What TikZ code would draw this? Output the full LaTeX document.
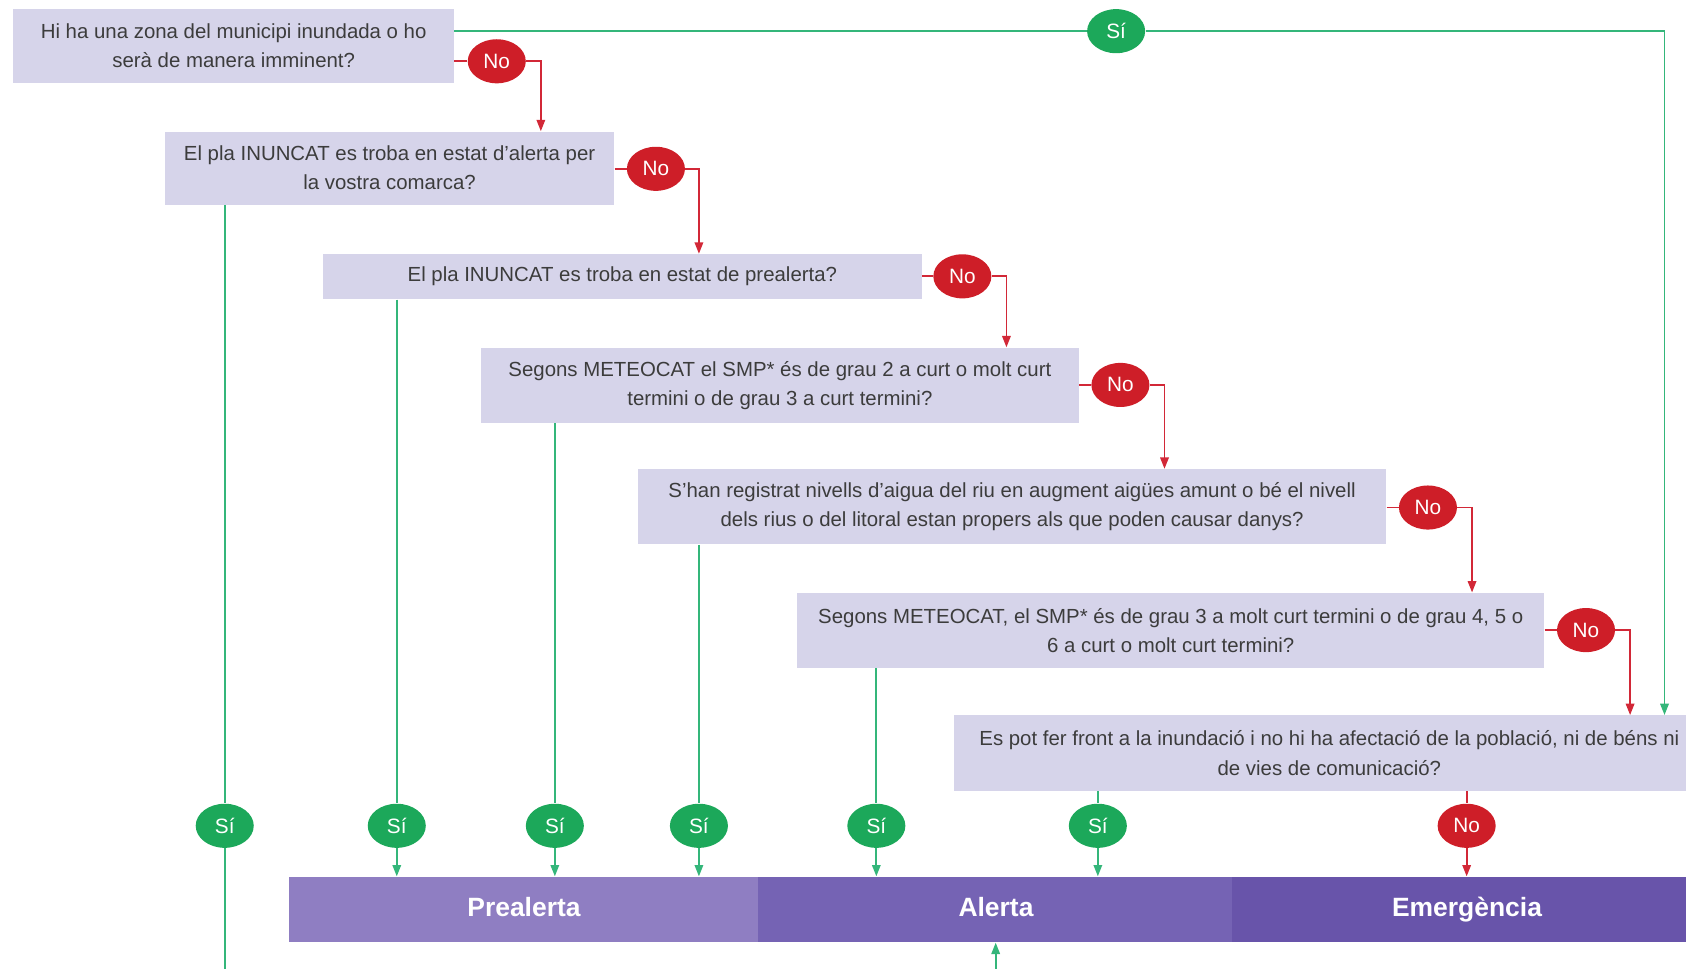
\documentclass[tikz,border=0pt]{standalone}
\usepackage{fontspec}
\setmainfont{Liberation Sans}
\usetikzlibrary{calc, positioning, arrows.meta, shapes.geometric}
\definecolor{qFill}{RGB}{214, 212, 234}
\definecolor{txtGray}{RGB}{60, 60, 60}
\definecolor{siFill}{RGB}{28, 168, 90}
\definecolor{siLine}{RGB}{52, 182, 122}
\definecolor{noFill}{RGB}{206, 30, 40}
\definecolor{noLine}{RGB}{210, 40, 55}
\definecolor{barA}{RGB}{143, 126, 194}
\definecolor{barB}{RGB}{117, 99, 180}
\definecolor{barC}{RGB}{104, 84, 170}

\begin{document}
\begin{tikzpicture}[x=0.02cm, y=-0.02cm, >={Triangle[width=4.5pt, length=6pt]},
  qbox/.style={fill=qFill, text=txtGray, anchor=north west, align=center,
    inner sep=0pt, font=\fontsize{10.8}{15.4}\selectfont},
  sibub/.style={ellipse, fill=siFill, text=white, minimum width=1.08cm,
    minimum height=0.82cm, inner sep=0pt, font=\fontsize{11}{13}\selectfont},
  nobub/.style={sibub, fill=noFill},
  siline/.style={draw=siLine, line width=0.9pt},
  noline/.style={draw=noLine, line width=0.9pt},
  bar/.style={anchor=north west, minimum height=1.22cm, inner sep=0pt,
    text height=1.9ex, text depth=0.5ex,
    text=white, font=\fontsize{14}{16}\selectfont\bfseries}]
  \useasboundingbox (0,0) rectangle (1568,901);
  \clip (0,0) rectangle (1568,901);

  % questions
  \node[qbox, minimum width=8.2cm, minimum height=1.38cm] (q1) at (12,8)
    {Hi ha una zona del municipi inundada o ho\\serà de manera imminent?};
  \node[qbox, minimum width=8.36cm, minimum height=1.36cm] (q2) at (153,122)
    {El pla INUNCAT es troba en estat d’alerta per\\la vostra comarca?};
  \node[qbox, minimum width=11.14cm, minimum height=0.84cm] (q3) at (300,236)
    {El pla INUNCAT es troba en estat de prealerta?};
  \node[qbox, minimum width=11.12cm, minimum height=1.4cm] (q4) at (447,323)
    {Segons METEOCAT el SMP* és de grau 2 a curt o molt curt\\termini o de grau 3 a curt termini?};
  \node[qbox, minimum width=13.92cm, minimum height=1.4cm] (q5) at (593,436)
    {S’han registrat nivells d’aigua del riu en augment aigües amunt o bé el nivell\\dels rius o del litoral estan propers als que poden causar danys?};
  \node[qbox, minimum width=13.9cm, minimum height=1.4cm] (q6) at (741,551)
    {Segons METEOCAT, el SMP* és de grau 3 a molt curt termini o de grau 4, 5 o\\6 a curt o molt curt termini?};
  \node[qbox, minimum width=13.96cm, minimum height=1.4cm] (q7) at (887,665)
    {Es pot fer front a la inundació i no hi ha afectació de la població, ni de béns ni\\de vies de comunicació?};

  % levels
  \node[bar, fill=barA, minimum width=8.76cm] (prealerta) at (268,815) {Prealerta};
  \node[bar, fill=barB, minimum width=8.84cm] (alerta) at (705,815) {Alerta};
  \node[bar, fill=barC, minimum width=8.76cm] (emergencia) at (1145,815) {Emergència};

  % answer bubbles
  \node[sibub] (si0) at (1038,29) {Sí};
  \node[nobub] (no1) at (462,57) {No};
  \node[nobub] (no2) at (610,157) {No};
  \node[nobub] (no3) at (895,257) {No};
  \node[nobub] (no4) at (1042,358) {No};
  \node[nobub] (no5) at (1328,472) {No};
  \node[nobub] (no6) at (1475,586) {No};
  \node[sibub] (si1) at (209,768) {Sí};
  \node[sibub] (si2) at (369,768) {Sí};
  \node[sibub] (si3) at (516,768) {Sí};
  \node[sibub] (si4) at (650,768) {Sí};
  \node[sibub] (si5) at (815,768) {Sí};
  \node[sibub] (si6) at (1021,768) {Sí};
  \node[nobub] (no7) at (1364,768) {No};

  % corner points
  \coordinate (k0) at (1548,0);
  \coordinate (k1) at (503,0);
  \coordinate (k2) at (650,0);
  \coordinate (k3) at (936,0);
  \coordinate (k4) at (1083,0);
  \coordinate (k5) at (1369,0);
  \coordinate (k6) at (1516,0);
  \coordinate (b1) at (209,910);
  \coordinate (b2) at (926,910);

  % no chain
  \draw[noline] (q1.east |- no1) -- (no1);
  \draw[noline, ->] (no1) -| (q2.north -| k1);
  \draw[noline] (q2.east |- no2) -- (no2);
  \draw[noline, ->] (no2) -| (q3.north -| k2);
  \draw[noline] (q3.east |- no3) -- (no3);
  \draw[noline, ->] (no3) -| (q4.north -| k3);
  \draw[noline] (q4.east |- no4) -- (no4);
  \draw[noline, ->] (no4) -| (q5.north -| k4);
  \draw[noline] (q5.east |- no5) -- (no5);
  \draw[noline, ->] (no5) -| (q6.north -| k5);
  \draw[noline] (q6.east |- no6) -- (no6);
  \draw[noline, ->] (no6) -| (q7.north -| k6);
  \draw[noline] (q7.south -| no7) -- (no7);
  \draw[noline, ->] (no7) -- (emergencia.north -| no7);

  % yes lines
  \draw[siline] (q1.east |- si0) -- (si0);
  \draw[siline, ->] (si0) -| (q7.north -| k0);
  \draw[siline] (q2.south -| si1) -- (si1);
  \draw[siline] (si1) -- (b1);
  \draw[siline, ->] (b2) -- (alerta.south -| b2);
  \draw[siline] (q3.south -| si2) -- (si2);
  \draw[siline, ->] (si2) -- (prealerta.north -| si2);
  \draw[siline] (q4.south -| si3) -- (si3);
  \draw[siline, ->] (si3) -- (prealerta.north -| si3);
  \draw[siline] (q5.south -| si4) -- (si4);
  \draw[siline, ->] (si4) -- (prealerta.north -| si4);
  \draw[siline] (q6.south -| si5) -- (si5);
  \draw[siline, ->] (si5) -- (alerta.north -| si5);
  \draw[siline] (q7.south -| si6) -- (si6);
  \draw[siline, ->] (si6) -- (alerta.north -| si6);
\end{tikzpicture}
\end{document}
